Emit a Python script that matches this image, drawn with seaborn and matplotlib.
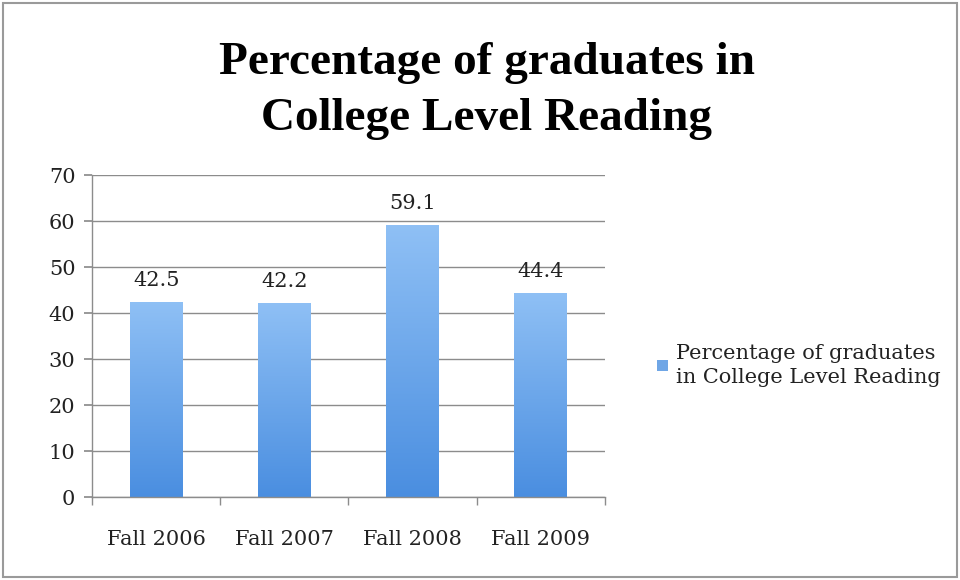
import matplotlib
matplotlib.use("Agg")
import matplotlib.pyplot as plt
import seaborn as sns
import numpy as np
import pandas as pd
from matplotlib.patches import Rectangle, Patch
from matplotlib.colors import LinearSegmentedColormap

categories = ["Fall 2006", "Fall 2007", "Fall 2008", "Fall 2009"]
values = [42.5, 42.2, 59.1, 44.4]
value_labels = ["42.5", "42.2", "59.1", "44.4"]
series_name = "Percentage of graduates\nin College Level Reading"
title = "Percentage of graduates in\nCollege Level Reading"
yticks = [0, 10, 20, 30, 40, 50, 60, 70]

sns.set_theme(style="white")
plt.rcParams['font.family'] = ['DejaVu Serif', 'Liberation Serif']

df = pd.DataFrame({"cat": categories, "val": values})

fig = plt.figure(figsize=(9.6, 5.8), dpi=100)
ax = fig.add_axes([0.096, 0.143, 0.534, 0.555])

sns.barplot(data=df, x="cat", y="val", ax=ax, color="#5b9be0", width=0.41,
            saturation=1)

ax.set_ylim(0, 70)
ax.set_xlim(-0.5, 3.5)
ax.set_yticks(yticks)
ax.set_yticklabels([str(t) for t in yticks], fontsize=15, color="#222222")
ax.tick_params(axis="x", labelsize=15, labelcolor="#222222", pad=18)
ax.set_xlabel("")
ax.set_ylabel("")
ax.yaxis.grid(True, color="#8c8c8c", linewidth=1.0)
ax.set_axisbelow(True)
for s in ["top", "right"]:
    ax.spines[s].set_visible(False)
for s in ["left", "bottom"]:
    ax.spines[s].set_color("#8c8c8c")
    ax.spines[s].set_linewidth(1.0)
ax.tick_params(axis="y", which="both", left=True, length=6, color="#8c8c8c", pad=6)
ax.set_xticks([0, 1, 2, 3])
ax.set_xticks([-0.5, 0.5, 1.5, 2.5, 3.5], minor=True)
ax.tick_params(axis="x", which="major", bottom=False)
ax.tick_params(axis="x", which="minor", bottom=True, length=6, color="#8c8c8c")

# gradient fill of bars
cmap = LinearSegmentedColormap.from_list("g", ["#4a8ee0", "#8fc0f5"])
grad = np.linspace(0, 1, 256).reshape(-1, 1)
for p in list(ax.patches):
    x0, y0, w, h = p.get_x(), p.get_y(), p.get_width(), p.get_height()
    im = ax.imshow(grad, extent=[x0, x0 + w, y0, y0 + h], origin="lower",
                   cmap=cmap, aspect="auto", zorder=2)
    im.set_clip_path(p)
    p.set_edgecolor("none")
ax.set_xlim(-0.5, 3.5)
ax.set_ylim(0, 70)

for i, (v, lab) in enumerate(zip(values, value_labels)):
    ax.text(i, v + 2.6, lab, ha="center", va="bottom", fontsize=15, color="#222222")

fig.text(0.507, 0.843, title, ha="center", va="center", fontsize=34,
         fontweight="bold", linespacing=1.42, color="black",
         family=['Liberation Serif', 'DejaVu Serif'])

handle = Patch(facecolor="#6fa6e6", edgecolor="none")
leg = fig.legend([handle], [series_name], loc="center left", bbox_to_anchor=(0.665, 0.37),
                 frameon=False, fontsize=15, handlelength=0.5, handleheight=0.5,
                 handletextpad=0.4, labelcolor="#222222")
for t in leg.get_texts():
    t.set_linespacing(1.3)

fig.patches.append(Rectangle((0.003, 0.006), 0.994, 0.988, transform=fig.transFigure,
                             fill=False, edgecolor="#9a9a9a", linewidth=1.5))

fig.savefig("out.png", dpi=100)
